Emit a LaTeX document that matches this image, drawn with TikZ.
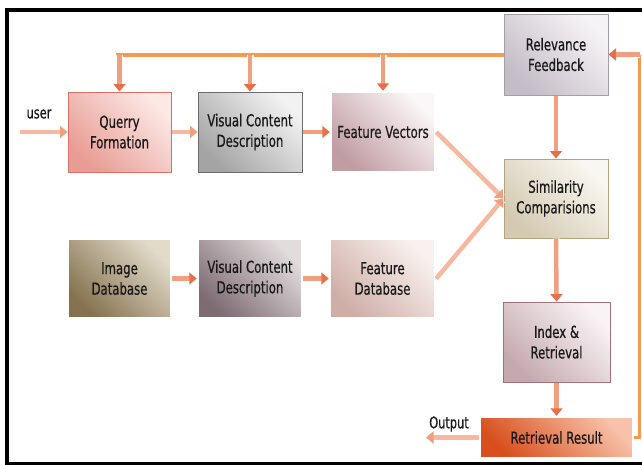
\documentclass[tikz,border=0pt]{standalone}
\usepackage{fontspec}
\setmainfont{DejaVu Sans}[FakeStretch=0.71, FakeBold=0.6]
\usetikzlibrary{arrows.meta,shadows}

% box fills (light corner / dark corner) and borders
\definecolor{qfA}{HTML}{FCE8E5}\definecolor{qfB}{HTML}{E89C94}\definecolor{qfD}{HTML}{D87068}
\definecolor{vcA}{HTML}{F2F2F2}\definecolor{vcB}{HTML}{A4A4A4}\definecolor{vcD}{HTML}{6C6C6C}
\definecolor{fvA}{HTML}{FBF6F7}\definecolor{fvB}{HTML}{C09CA3}
\definecolor{rfA}{HTML}{F6F3F6}\definecolor{rfB}{HTML}{C4BCC6}\definecolor{rfD}{HTML}{A89CA8}
\definecolor{scA}{HTML}{F9F7F1}\definecolor{scB}{HTML}{D4CAB2}\definecolor{scD}{HTML}{B4A47E}
\definecolor{idA}{HTML}{E2DBCA}\definecolor{idB}{HTML}{85724F}
\definecolor{vdA}{HTML}{E2DCDD}\definecolor{vdB}{HTML}{7E6C73}
\definecolor{fdA}{HTML}{F9F1EF}\definecolor{fdB}{HTML}{CFAEA7}
\definecolor{irA}{HTML}{F9F3F5}\definecolor{irB}{HTML}{C4A9AF}\definecolor{irD}{HTML}{A27078}
\definecolor{rrA}{HTML}{F8C2AA}\definecolor{rrB}{HTML}{D84E1C}
% connectors and text
\definecolor{bus}{HTML}{F59A50}
\definecolor{flowbody}{HTML}{F0A080}
\definecolor{flowtip}{HTML}{E87048}
\definecolor{flowlight}{HTML}{F6B8A0}
\definecolor{txt}{HTML}{1A1A1A}

\tikzset{
  box/.style={rectangle, inner sep=0pt, align=center,
    minimum width=104pt, minimum height=80pt,
    font=\fontsize{16.5}{20.5}\selectfont, text=txt,
    line width=1pt},
  % diagonal fill: light at the upper right, dark at the lower left
  grad/.style 2 args={top color=#1, bottom color=#2, shading angle=-45},
  lifted/.style={draw=white, line width=2.5pt,
    drop shadow={shadow xshift=0.6pt, shadow yshift=-0.6pt, opacity=0.25}},
  flow/.style={line width=4.5pt, draw=flowbody,
    -{Triangle[width=12pt,length=7.5pt,color=flowtip]},
    preaction={draw=white, line width=7pt, -, shorten >=2pt}},
  flowsoft/.style={flow, draw=flowlight,
    -{Triangle[width=12pt,length=7.5pt,color=flowbody]}},
  busline/.style={draw=bus, line width=4pt},
  sideline/.style={draw=bus, line width=2.5pt},
  tag/.style={font=\fontsize{16}{18}\selectfont, text=txt, inner sep=0pt}
}

\begin{document}
\begin{tikzpicture}[x=1pt,y=-1pt]
\useasboundingbox (0,0) rectangle (642,464);
\fill[white] (0,0) rectangle (642,464);

% outer frame, open on the right
\begin{scope}
\clip (0,0) rectangle (642,464);
\draw[line width=4pt] (700,10) -- (7,10) -- (7,463.5) -- (700,463.5);
\end{scope}

% upper row
\node[box, draw=qfD, grad={qfA}{qfB}, minimum width=103pt]
  (qf) at (119.5,132) {Querry\\Formation};
\node[box, draw=vcD, grad={vcA}{vcB}]
  (vc1) at (250,132) {Visual Content\\Description};
\node[box, lifted, grad={fvA}{fvB}]
  (fv) at (383,132) {Feature Vectors};

% lower row
\node[box, lifted, grad={idA}{idB}, minimum width=103pt, minimum height=79pt]
  (idb) at (119.5,278.5) {Image\\Database};
\node[box, lifted, grad={vdA}{vdB}, minimum height=79pt]
  (vc2) at (250,278.5) {Visual Content\\Description};
\node[box, lifted, grad={fdA}{fdB}, minimum width=105pt, minimum height=79pt]
  (fdb) at (382.5,278.5) {Feature\\Database};

% right column
\node[box, draw=rfD, grad={rfA}{rfB}, minimum height=81pt]
  (rf) at (556,54.5) {Relevance\\Feedback};
\node[box, draw=scD, grad={scA}{scB}, minimum height=79pt]
  (sc) at (556,198.5) {Similarity\\Comparisions};
\node[box, draw=irD, grad={irA}{irB}, minimum width=107pt]
  (ir) at (556.5,342) {Index \&\\Retrieval};
\node[box, lifted, grad={rrA}{rrB}, minimum width=153pt, minimum height=41pt]
  (rr) at (556.5,437.5) {Retrieval Result};

% free labels and loose ends
\node[tag] (user) at (39,114) {user};
\node[tag] (out) at (449,424) {Output};
\coordinate (userin) at (20,132);
\coordinate (outend) at (426,437.5);
\coordinate (busend) at (116,54.5);
\coordinate (sidetop) at (639.5,54.5);
\coordinate (sidebot) at (639.5,437.5);

% feedback bus along the top
\draw[busline] (rf.west) -- (busend);
\draw[sideline] (rr.east) -- (sidebot) -- (sidetop);

% arrows down from the bus
\draw[flow] (qf.north |- rf.west) -- (qf.north);
\draw[flow] (vc1.north |- rf.west) -- (vc1.north);
\draw[flow] (fv.north |- rf.west) -- (fv.north);
\draw[flow] (sidetop) -- (rf.east);

% main flow
\draw[flowsoft] (userin) -- (qf.west);
\draw[flowsoft] (qf.east) -- (vc1.west);
\draw[flow] (vc1.east) -- (fv.west);
\draw[flow] (idb.east) -- (vc2.west);
\draw[flow] (vc2.east) -- (fdb.west);
\draw[flowsoft] (fv.east) -- (sc.west);
\draw[flowsoft] (fdb.east) -- (sc.west);
\draw[flow] (rf.south) -- (sc.north);
\draw[flow] (sc.south) -- (ir.north);
\draw[flow] (ir.south) -- (rr.north);
\draw[flowsoft] (rr.west) -- (outend);
\end{tikzpicture}
\end{document}
